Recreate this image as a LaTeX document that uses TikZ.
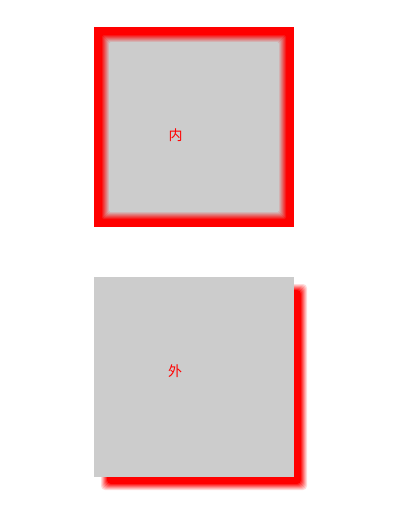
\documentclass[tikz,border=0pt]{standalone}
\usepackage{fontspec}
\newfontfamily\cjk{Noto Sans CJK SC}
\definecolor{boxgray}{RGB}{204,204,204}
\tikzset{
  lbl/.style={text=red, font=\cjk\fontsize{14pt}{16pt}\selectfont, inner sep=0pt},
}
\begin{document}
\begin{tikzpicture}[x=1pt,y=-1pt]
\useasboundingbox (0,0) rectangle (400,515);
% ---- top box: inner shadow ----
\fill[red] (94,27) rectangle (294,227);
\foreach \d in {7,...,15}{
  \pgfmathtruncatemacro\t{(\d-7)*100/8}
  \fill[boxgray!\t!red, rounded corners=1.5pt] (94+\d,27+\d) rectangle (294-\d,227-\d);
}
\node[lbl] (inner) at (175.5,135.5) {内};
% ---- bottom box: outer shadow ----
\foreach \d in {4,...,-3}{
  \pgfmathtruncatemacro\t{(4-\d)*100/7}
  \fill[red!\t!white, rounded corners=4pt] (104-\d,287-\d) rectangle (304+\d,487+\d);
}
\fill[boxgray] (94,277) rectangle (294,477);
\node[lbl] (outer) at (175,371.5) {外};
\end{tikzpicture}
\end{document}
